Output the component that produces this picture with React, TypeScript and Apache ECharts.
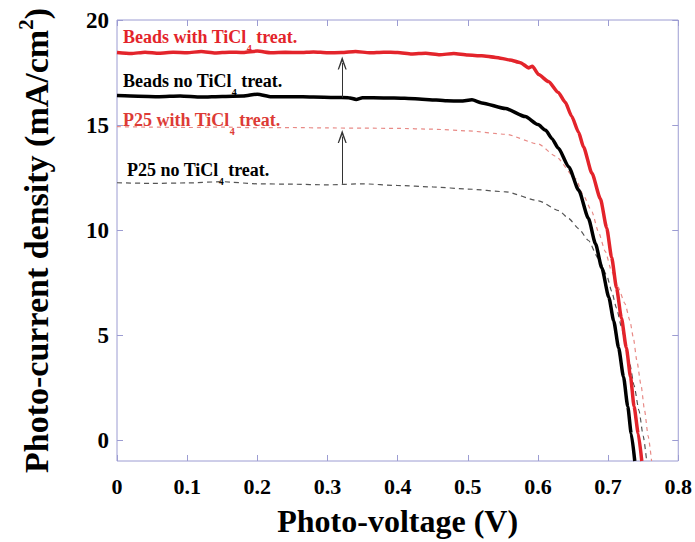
import React, { useEffect, useRef } from "react";
import * as echarts from "echarts";

// ---- data ----
const beadsTiVolt = [0, 0.02, 0.04, 0.06, 0.08, 0.10, 0.12, 0.14, 0.16, 0.18, 0.20, 0.22, 0.24, 0.26, 0.28, 0.30, 0.32, 0.34, 0.36, 0.38, 0.40, 0.42, 0.44, 0.46, 0.48, 0.50, 0.52, 0.54, 0.56, 0.575, 0.587, 0.592, 0.601, 0.615, 0.629, 0.639, 0.648, 0.658, 0.665, 0.677, 0.689, 0.698, 0.705, 0.712, 0.719, 0.726, 0.732, 0.737, 0.743, 0.748];
const beadsTiCurr = [18.45, 18.40, 18.47, 18.42, 18.46, 18.44, 18.50, 18.43, 18.47, 18.45, 18.52, 18.44, 18.46, 18.45, 18.48, 18.44, 18.45, 18.50, 18.44, 18.47, 18.45, 18.38, 18.42, 18.35, 18.40, 18.33, 18.30, 18.22, 18.10, 17.97, 17.72, 17.80, 17.40, 17.07, 16.55, 16.08, 15.42, 14.65, 13.95, 12.70, 11.49, 10.10, 8.70, 7.25, 5.81, 4.39, 3.00, 1.60, 0.30, -1.00];

const beadsNoVolt = [0, 0.03, 0.06, 0.09, 0.12, 0.15, 0.18, 0.20, 0.22, 0.25, 0.28, 0.31, 0.33, 0.341, 0.35, 0.38, 0.41, 0.44, 0.47, 0.49, 0.506, 0.52, 0.554, 0.582, 0.600, 0.611, 0.620, 0.629, 0.644, 0.658, 0.672, 0.682, 0.691, 0.701, 0.708, 0.715, 0.722, 0.728, 0.733, 0.738];
const beadsNoCurr = [16.40, 16.37, 16.35, 16.38, 16.33, 16.36, 16.38, 16.47, 16.34, 16.35, 16.33, 16.31, 16.30, 16.22, 16.30, 16.29, 16.27, 16.22, 16.15, 16.14, 16.20, 16.05, 15.78, 15.40, 15.02, 14.75, 14.35, 13.90, 13.00, 11.90, 10.55, 9.35, 8.20, 6.80, 5.67, 4.39, 3.00, 1.60, 0.30, -1.00];

const p25TiVolt = [0, 0.05, 0.10, 0.15, 0.20, 0.25, 0.30, 0.35, 0.40, 0.45, 0.50, 0.554, 0.601, 0.625, 0.654, 0.665, 0.677, 0.686, 0.696, 0.705, 0.714, 0.724, 0.731, 0.736, 0.741, 0.747, 0.752, 0.757, 0.762];
const p25TiCurr = [14.92, 14.90, 14.88, 14.90, 14.87, 14.88, 14.86, 14.85, 14.84, 14.80, 14.72, 14.56, 14.09, 13.52, 12.43, 11.63, 10.87, 9.93, 8.98, 8.04, 7.30, 6.50, 5.70, 4.87, 3.78, 2.60, 1.41, 0.20, -1.00];

const p25NoVolt = [0, 0.05, 0.10, 0.15, 0.20, 0.25, 0.30, 0.35, 0.40, 0.45, 0.50, 0.554, 0.601, 0.630, 0.644, 0.658, 0.672, 0.686, 0.698, 0.705, 0.712, 0.719, 0.725, 0.731, 0.737, 0.744, 0.750, 0.755];
const p25NoCurr = [12.25, 12.22, 12.24, 12.30, 12.20, 12.18, 12.15, 12.20, 12.12, 12.05, 11.95, 11.82, 11.39, 10.92, 10.54, 10.07, 9.50, 8.65, 7.85, 7.09, 6.28, 5.40, 4.50, 3.60, 2.60, 1.41, 0.20, -1.00];

const yTickValues = [0, 5, 10, 15, 20];
const arrowVolt = 0.321;
const arrowBeads = [16.3, 17.95];
const arrowP25 = [12.2, 14.45];

const zip = (xs: number[], ys: number[]) => xs.map((x, i) => [x, ys[i]]);

const FONT = "'Liberation Serif', 'Times New Roman', serif";
const FRAME = "#9c9cd2";

const arrowPath = "path://M5,0 L10,14 L8.6,14 L5,5 L1.4,14 L0,14 Z";

function labelText(x: number, y: number, pre: string, color: string) {
  return {
    type: "text",
    x,
    y,
    silent: true,
    style: {
      text: `{a|${pre} TiCl}{s|4}{a| treat.}`,
      fill: color,
      verticalAlign: "top",
      rich: {
        a: { fontFamily: FONT, fontWeight: "bold", fontSize: 18, lineHeight: 20, verticalAlign: "top", fill: color },
        s: { fontFamily: FONT, fontWeight: "bold", fontSize: 10, lineHeight: 10, padding: [15, 0, 0, 0], verticalAlign: "top", fill: color },
      },
    },
  };
}

export default function App() {
  const ref = useRef<HTMLDivElement>(null);
  useEffect(() => {
    if (!ref.current) return;
    const chart = echarts.init(ref.current, undefined, { renderer: "svg" });
    const axisBase = {
      type: "value",
      axisLine: { show: false, onZero: false },
      axisTick: { show: true, inside: true, length: 6, lineStyle: { color: FRAME, width: 1 } },
      splitLine: { show: false },
    };
    const lineCommon = {
      type: "line",
      showSymbol: false,
      smooth: 0.2,
      smoothMonotone: "x",
    };
    chart.setOption({
      animation: false,
      backgroundColor: "#ffffff",
      grid: { left: 117, right: 15, top: 20, bottom: 78, containLabel: false, show: true, borderColor: FRAME, borderWidth: 1, backgroundColor: "transparent" },
      xAxis: [
        {
          ...axisBase,
          min: 0,
          max: 0.8,
          interval: 0.1,
          position: "bottom",
          axisLabel: { color: "#000", fontFamily: FONT, fontWeight: "bold", fontSize: 22, margin: 14 },
          name: "Photo-voltage (V)",
          nameLocation: "middle",
          nameGap: 44,
          nameTextStyle: { color: "#000", fontFamily: FONT, fontWeight: "bold", fontSize: 32 },
        },
        {
          ...axisBase,
          min: 0,
          max: 0.8,
          interval: 0.1,
          position: "top",
          axisLabel: { show: false },
        },
      ],
      yAxis: [
        {
          ...axisBase,
          min: -1,
          max: 20,
          position: "left",
          axisTick: { show: true, inside: true, length: 6, lineStyle: { color: FRAME }, customValues: yTickValues },
          axisLabel: { color: "#000", fontFamily: FONT, fontWeight: "bold", fontSize: 23, margin: 8, customValues: yTickValues },
          name: "{a|Photo-current density (mA/cm}{s|2}{a|)}",
          nameLocation: "middle",
          nameRotate: 90,
          nameGap: 64,
          nameTextStyle: {
            color: "#000",
            rich: {
              a: { fontFamily: FONT, fontWeight: "bold", fontSize: 34, lineHeight: 38, verticalAlign: "bottom", color: "#000" },
              s: { fontFamily: FONT, fontWeight: "bold", fontSize: 21, lineHeight: 21, verticalAlign: "top", color: "#000" },
            },
          },
        },
        {
          ...axisBase,
          min: -1,
          max: 20,
          position: "right",
          axisTick: { show: true, inside: true, length: 6, lineStyle: { color: FRAME }, customValues: yTickValues },
          axisLabel: { show: false, customValues: yTickValues },
        },
      ],
      series: [
        {
          ...lineCommon,
          name: "P25 no TiCl4 treat.",
          data: zip(p25NoVolt, p25NoCurr),
          lineStyle: { color: "#555555", width: 1.2, type: [5, 4] },
          z: 2,
        },
        {
          ...lineCommon,
          name: "P25 with TiCl4 treat.",
          data: zip(p25TiVolt, p25TiCurr),
          lineStyle: { color: "#e88a86", width: 1.2, type: [4, 4] },
          z: 2,
        },
        {
          ...lineCommon,
          name: "Beads no TiCl4 treat.",
          data: zip(beadsNoVolt, beadsNoCurr),
          lineStyle: { color: "#000000", width: 3.5 },
          z: 3,
          markLine: {
            silent: true,
            symbol: ["none", arrowPath],
            symbolSize: [9, 13],
            label: { show: false },
            lineStyle: { color: "#333333", width: 1, type: "solid" },
            data: [
              [{ coord: [arrowVolt, arrowBeads[0]] }, { coord: [arrowVolt, arrowBeads[1]] }],
              [{ coord: [arrowVolt, arrowP25[0]] }, { coord: [arrowVolt, arrowP25[1]] }],
            ],
          },
        },
        {
          ...lineCommon,
          name: "Beads with TiCl4 treat.",
          data: zip(beadsTiVolt, beadsTiCurr),
          lineStyle: { color: "#e3242b", width: 3.5 },
          z: 4,
        },
      ],
      graphic: [
        labelText(123, 28, "Beads with", "#e3242b"),
        labelText(123, 72, "Beads no", "#000000"),
        labelText(123, 111, "P25 with", "#dd3b36"),
        labelText(127, 161, "P25 no", "#000000"),
      ],
    });
    return () => chart.dispose();
  }, []);
  return <div ref={ref} style={{ width: 695, height: 542, position: "absolute", left: 0, top: 0 }} />;
}
